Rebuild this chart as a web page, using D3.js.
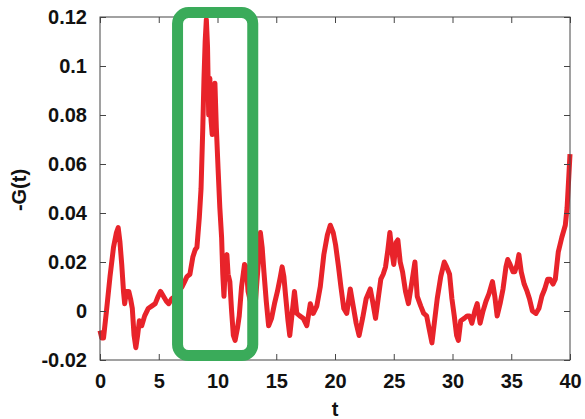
<!DOCTYPE html>
<html>
<head>
  <meta charset="utf-8">
  <title>-G(t)</title>
  <script src="https://d3js.org/d3.v7.min.js"></script>
  <style>
    body { margin: 0; background: white; }
    text { font-family: "Liberation Sans", Arial, sans-serif; font-weight: bold; fill: #111; }
    .frame { fill: none; stroke: #444; stroke-width: 1px; }
    .tick line { stroke: #444; }
  </style>
</head>
<body>
<svg id="chart" width="585" height="419"></svg>
<script>
// time values
var tVals = [0.00, 0.15, 0.30, 0.55, 0.85, 1.15, 1.40, 1.55, 1.70, 1.85, 2.00, 2.10, 2.25, 2.45, 2.60, 2.75,
  2.90, 3.05, 3.20, 3.35, 3.55, 3.80, 4.10, 4.40, 4.70, 4.95, 5.15, 5.40, 5.65, 5.85, 6.10, 6.40,
  6.70, 7.00, 7.20, 7.40, 7.65, 7.90, 8.10, 8.25, 8.45, 8.60, 8.75, 8.85, 8.95, 9.05, 9.15, 9.25,
  9.35, 9.45, 9.55, 9.65, 9.78, 9.90, 10.05, 10.20, 10.35, 10.45, 10.55, 10.70, 10.80, 10.90, 11.05,
  11.20, 11.35, 11.50, 11.70, 11.85, 12.05, 12.30, 12.45, 12.60, 12.90, 13.20, 13.45, 13.65, 13.80,
  13.95, 14.15, 14.35, 14.60, 14.85, 15.10, 15.35, 15.50, 15.65, 15.80, 16.00, 16.15, 16.35, 16.55,
  16.75, 17.00, 17.30, 17.60, 17.90, 18.15, 18.45, 18.75, 19.05, 19.35, 19.60, 19.85, 20.05, 20.30,
  20.50, 20.75, 21.00, 21.30, 21.55, 21.80, 22.05, 22.35, 22.65, 23.00, 23.20, 23.45, 23.70, 23.90,
  24.10, 24.30, 24.50, 24.67, 24.85, 25.00, 25.20, 25.35, 25.55, 25.75, 26.00, 26.25, 26.55, 26.80,
  27.00, 27.30, 27.55, 27.80, 28.00, 28.25, 28.45, 28.70, 29.00, 29.30, 29.50, 29.75, 29.95, 30.15,
  30.35, 30.50, 30.70, 31.00, 31.25, 31.45, 31.65, 31.90, 32.10, 32.35, 32.60, 32.85, 33.10, 33.40,
  33.60, 33.80, 34.05, 34.30, 34.55, 34.70, 34.90, 35.15, 35.30, 35.50, 35.65, 35.85, 36.10, 36.35,
  36.55, 36.80, 37.10, 37.35, 37.60, 37.85, 38.10, 38.30, 38.55, 38.75, 39.00, 39.30, 39.60, 39.75,
  39.90, 40.00]

// -G(t) values
var gVals = [-0.008, -0.011, -0.011, 0.000, 0.014, 0.026, 0.032, 0.034, 0.028, 0.019, 0.008, 0.003, 0.008, 0.008, 0.005, 0.001,
  -0.010, -0.015, -0.010, -0.004, -0.006, -0.002, 0.001, 0.002, 0.003, 0.006, 0.008, 0.006, 0.004, 0.003, 0.005, 0.006,
  0.008, 0.010, 0.012, 0.014, 0.015, 0.022, 0.025, 0.026, 0.038, 0.050, 0.075, 0.095, 0.110, 0.119, 0.108, 0.080,
  0.095, 0.078, 0.072, 0.088, 0.093, 0.075, 0.058, 0.042, 0.030, 0.015, 0.006, 0.022, 0.023, 0.015, 0.012,
  0.000, -0.010, -0.012, -0.007, -0.002, 0.010, 0.019, 0.018, 0.008, 0.002, 0.002, 0.018, 0.032, 0.026,
  0.016, 0.004, -0.006, -0.003, 0.003, 0.008, 0.014, 0.018, 0.014, 0.006, -0.004, -0.010, -0.001, 0.008,
  -0.001, -0.002, -0.003, -0.006, 0.003, -0.001, 0.002, 0.010, 0.023, 0.031, 0.035, 0.032, 0.027, 0.018,
  0.010, 0.001, -0.001, 0.009, 0.002, -0.005, -0.010, -0.003, 0.005, 0.009, 0.004, -0.003, 0.006, 0.013,
  0.015, 0.018, 0.025, 0.032, 0.024, 0.019, 0.028, 0.029, 0.020, 0.016, 0.008, 0.003, 0.012, 0.020,
  0.006, 0.002, -0.001, -0.002, -0.007, -0.013, -0.005, 0.005, 0.014, 0.020, 0.018, 0.015, 0.005, -0.002,
  -0.010, -0.012, -0.004, -0.003, -0.002, -0.002, -0.005, 0.000, 0.003, -0.005, 0.000, 0.004, 0.007, 0.012,
  0.006, -0.002, 0.003, 0.009, 0.018, 0.021, 0.019, 0.016, 0.016, 0.019, 0.023, 0.016, 0.011, 0.008,
  0.005, 0.000, -0.001, 0.001, 0.006, 0.009, 0.013, 0.013, 0.011, 0.013, 0.024, 0.030, 0.035, 0.042,
  0.055, 0.064]

var xTicks = [0, 5, 10, 15, 20, 25, 30, 35, 40]
var yTicks = [-0.02, 0, 0.02, 0.04, 0.06, 0.08, 0.1, 0.12]

// highlighted window, in data units
var boxT = [6.6, 13.0]
var boxG = [-0.0182, 0.1218]

var svg = d3.select("#chart")
var mLeft = 100, mRight = 570, mTop = 17, mBottom = 360

var x = d3.scaleLinear().domain([0, 40]).range([mLeft, mRight])
var y = d3.scaleLinear().domain([-0.02, 0.12]).range([mBottom, mTop])

var data = tVals.map((t, i) => ({t: t, g: gVals[i]}))

// curve
svg.append("path")
  .datum(data)
  .attr("fill", "none")
  .attr("stroke", "#e8232a")
  .attr("stroke-width", 5)
  .attr("stroke-linejoin", "round")
  .attr("d", d3.line().x(d => x(d.t)).y(d => y(d.g)))

// axes with inward ticks, mirrored on every side
var fmtY = d => d === 0 ? "0" : String(+d.toFixed(2))

svg.append("g")
  .attr("transform", "translate(0," + mBottom + ")")
  .call(d3.axisBottom(x).tickValues(xTicks).tickSizeInner(-6).tickSizeOuter(0).tickPadding(14))
  .call(g => g.select(".domain").remove())
  .selectAll("text").style("font-size", "20px")

svg.append("g")
  .attr("transform", "translate(0," + mTop + ")")
  .call(d3.axisTop(x).tickValues(xTicks).tickSizeInner(-6).tickSizeOuter(0).tickFormat(""))
  .call(g => g.select(".domain").remove())

svg.append("g")
  .attr("transform", "translate(" + mLeft + ",0)")
  .call(d3.axisLeft(y).tickValues(yTicks).tickSizeInner(-6).tickSizeOuter(0).tickPadding(13).tickFormat(fmtY))
  .call(g => g.select(".domain").remove())
  .selectAll("text").style("font-size", "20px")

svg.append("g")
  .attr("transform", "translate(" + mRight + ",0)")
  .call(d3.axisRight(y).tickValues(yTicks).tickSizeInner(-6).tickSizeOuter(0).tickFormat(""))
  .call(g => g.select(".domain").remove())

svg.selectAll(".tick text").attr("fill", "#111").style("font-family", "'Liberation Sans', Arial, sans-serif").style("font-weight", "bold")

svg.append("rect")
  .attr("class", "frame")
  .attr("x", mLeft)
  .attr("y", mTop)
  .attr("width", mRight - mLeft)
  .attr("height", mBottom - mTop)

// green highlight box drawn over the curve
svg.append("rect")
  .attr("x", x(boxT[0]))
  .attr("y", y(boxG[1]))
  .attr("width", x(boxT[1]) - x(boxT[0]))
  .attr("height", y(boxG[0]) - y(boxG[1]))
  .attr("rx", 11)
  .attr("fill", "none")
  .attr("stroke", "#3aab5a")
  .attr("stroke-width", 11)

// axis titles
svg.append("text")
  .attr("x", (mLeft + mRight) / 2)
  .attr("y", 416)
  .attr("text-anchor", "middle")
  .style("font-size", "20px")
  .text("t")

svg.append("text")
  .attr("transform", "translate(26,190) rotate(-90)")
  .attr("text-anchor", "middle")
  .style("font-size", "20px")
  .text("-G(t)")
</script>
</body>
</html>
